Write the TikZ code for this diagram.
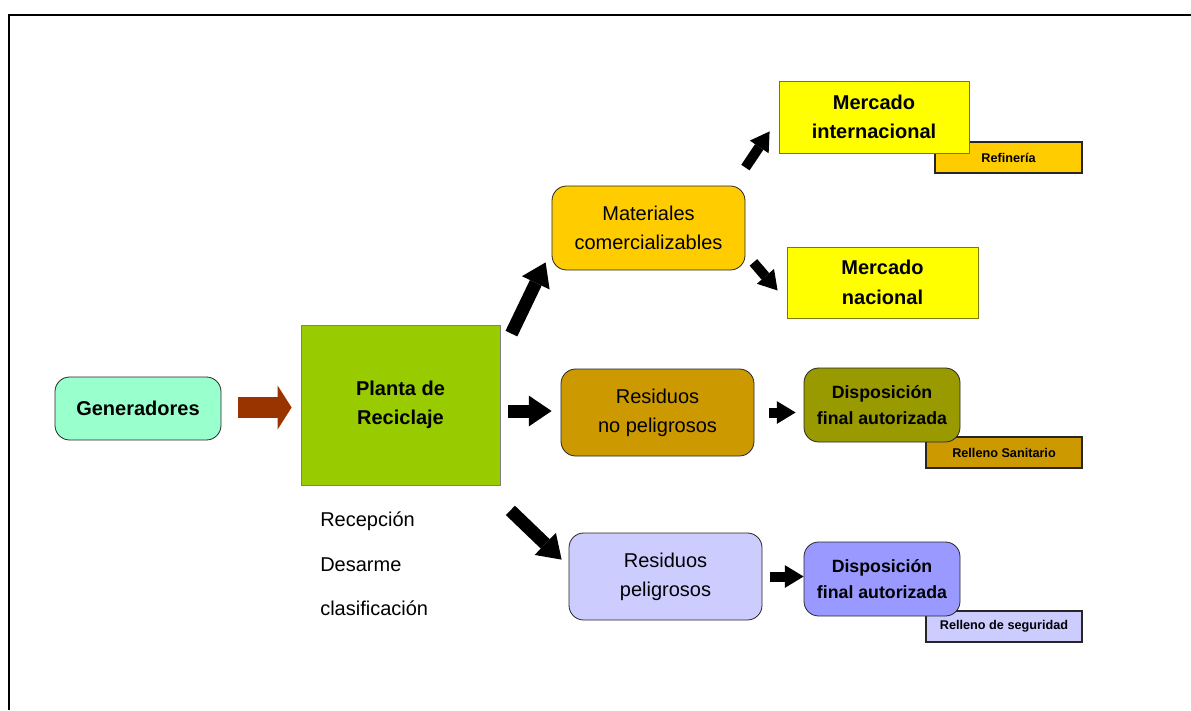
\documentclass[tikz,border=0pt]{standalone}
\usepackage{fontspec}
\setmainfont{Liberation Sans}
\usetikzlibrary{arrows.meta}
\definecolor{menta}{HTML}{99FFCC}
\definecolor{verdeplanta}{HTML}{99CC00}
\definecolor{marron}{HTML}{993300}
\definecolor{naranja}{HTML}{FFCC00}
\definecolor{amarillo}{HTML}{FFFF00}
\definecolor{ocre}{HTML}{CC9900}
\definecolor{oliva}{HTML}{999900}
\definecolor{lila}{HTML}{CCCCFF}
\definecolor{violeta}{HTML}{9999FF}
\begin{document}
\begin{tikzpicture}[x=0.75pt, y=-0.75pt,
	caja/.style={draw=black!85, line width=0.6pt, rounded corners=11pt, align=center, inner sep=0pt, font=\fontsize{15}{22}\selectfont},
	cajabold/.style={caja, font=\fontsize{15}{22}\selectfont\bfseries},
	cajadisp/.style={caja, font=\fontsize{13.3}{19}\selectfont\bfseries, minimum width=117pt, minimum height=55.5pt},
	etiqueta/.style={draw=black!85, line width=0.8pt, inner sep=0pt, minimum width=117pt, minimum height=23.25pt, font=\fontsize{9.5}{11}\selectfont\bfseries},
	mercado/.style={draw=oliva!80!black, line width=0.6pt, fill=amarillo, align=center, inner sep=0pt, font=\fontsize{15}{22}\selectfont\bfseries},
	flecha/.style={line width=9.75pt, -{Triangle[length=17pt, width=23pt, line width=0pt]}},
	flechita/.style={line width=7.5pt, -{Triangle[length=14pt, width=17pt, line width=0pt]}}]
	\useasboundingbox (0,0) rectangle (1191,710);
	\draw[line width=2pt] (9,710) -- (9,15) -- (1191,15);

	\node[cajabold, fill=menta, minimum width=124.5pt, minimum height=47.25pt] (gen) at (138,408.5) {Generadores};
	\node[draw=black!50, line width=0.6pt, fill=verdeplanta, align=center, inner sep=0pt, minimum width=149.25pt, minimum height=120pt, font=\fontsize{15}{22}\selectfont\bfseries] (planta) at (400.5,405) {Planta de\\Reciclaje};
	\foreach \t/\y in {Recepción/521, Desarme/565, clasificación/608}
		\node[anchor=west, inner sep=0pt, font=\fontsize{15}{18}\selectfont] (p\y) at (320,\y) {\t};

	\node[caja, fill=naranja, minimum width=144.75pt, minimum height=63pt] (mat) at (648.5,228) {Materiales\\comercializables};
	\node[caja, fill=ocre, minimum width=144.75pt, minimum height=65.25pt] (rnp) at (657.5,412.5) {Residuos\\no peligrosos};
	\node[caja, fill=lila, minimum width=144.75pt, minimum height=65.25pt] (rp) at (665.5,576.5) {Residuos\\peligrosos};

	\node[etiqueta, fill=naranja, minimum width=110.25pt] (refi) at (1008.5,157.5) {Refinería};
	\node[mercado, minimum width=142.5pt, minimum height=54pt] (minter) at (874,117) {Mercado\\internacional};
	\node[mercado, minimum width=143.25pt, minimum height=53.25pt] (mnac) at (882.5,282.5) {Mercado\\nacional};

	\node[etiqueta, fill=ocre] (rsan) at (1004,452.5) {Relleno Sanitario};
	\node[cajadisp, fill=oliva] (disp1) at (882,405) {Disposición\\final autorizada};
	\node[etiqueta, fill=lila] (rseg) at (1004,626.5) {Relleno de seguridad};
	\node[cajadisp, fill=violeta] (disp2) at (882,579) {Disposición\\final autorizada};

	\draw[marron, line width=15.75pt, -{Triangle[length=10.5pt, width=33pt, line width=0pt]}] ([shift={(17,-1)}]gen.east) -- ([shift={(-9,2.5)}]planta.west);
	\draw[flecha] ([shift={(11,9)}]planta.north east) -- ([shift={(-6,-8)}]mat.south west);
	\draw[flecha] ([shift={(8,6)}]planta.east) -- ([shift={(-9,-1.5)}]rnp.west);
	\draw[flecha] ([shift={(10,25)}]planta.south east) -- ([shift={(-7,27)}]rp.north west);
	\draw[flechita] ([shift={(0,-18)}]mat.north east) -- ([shift={(-9,-22)}]minter.south west);
	\draw[flechita] ([shift={(8,-8)}]mat.south east) -- ([shift={(-9,8)}]mnac.west);
	\draw[flechita] ([shift={(15,0)}]rnp.east) -- ([shift={(-8,7.5)}]disp1.west);
	\draw[flechita] ([shift={(8,0)}]rp.east) -- ([shift={(0,-2.5)}]disp2.west);
\end{tikzpicture}
\end{document}
